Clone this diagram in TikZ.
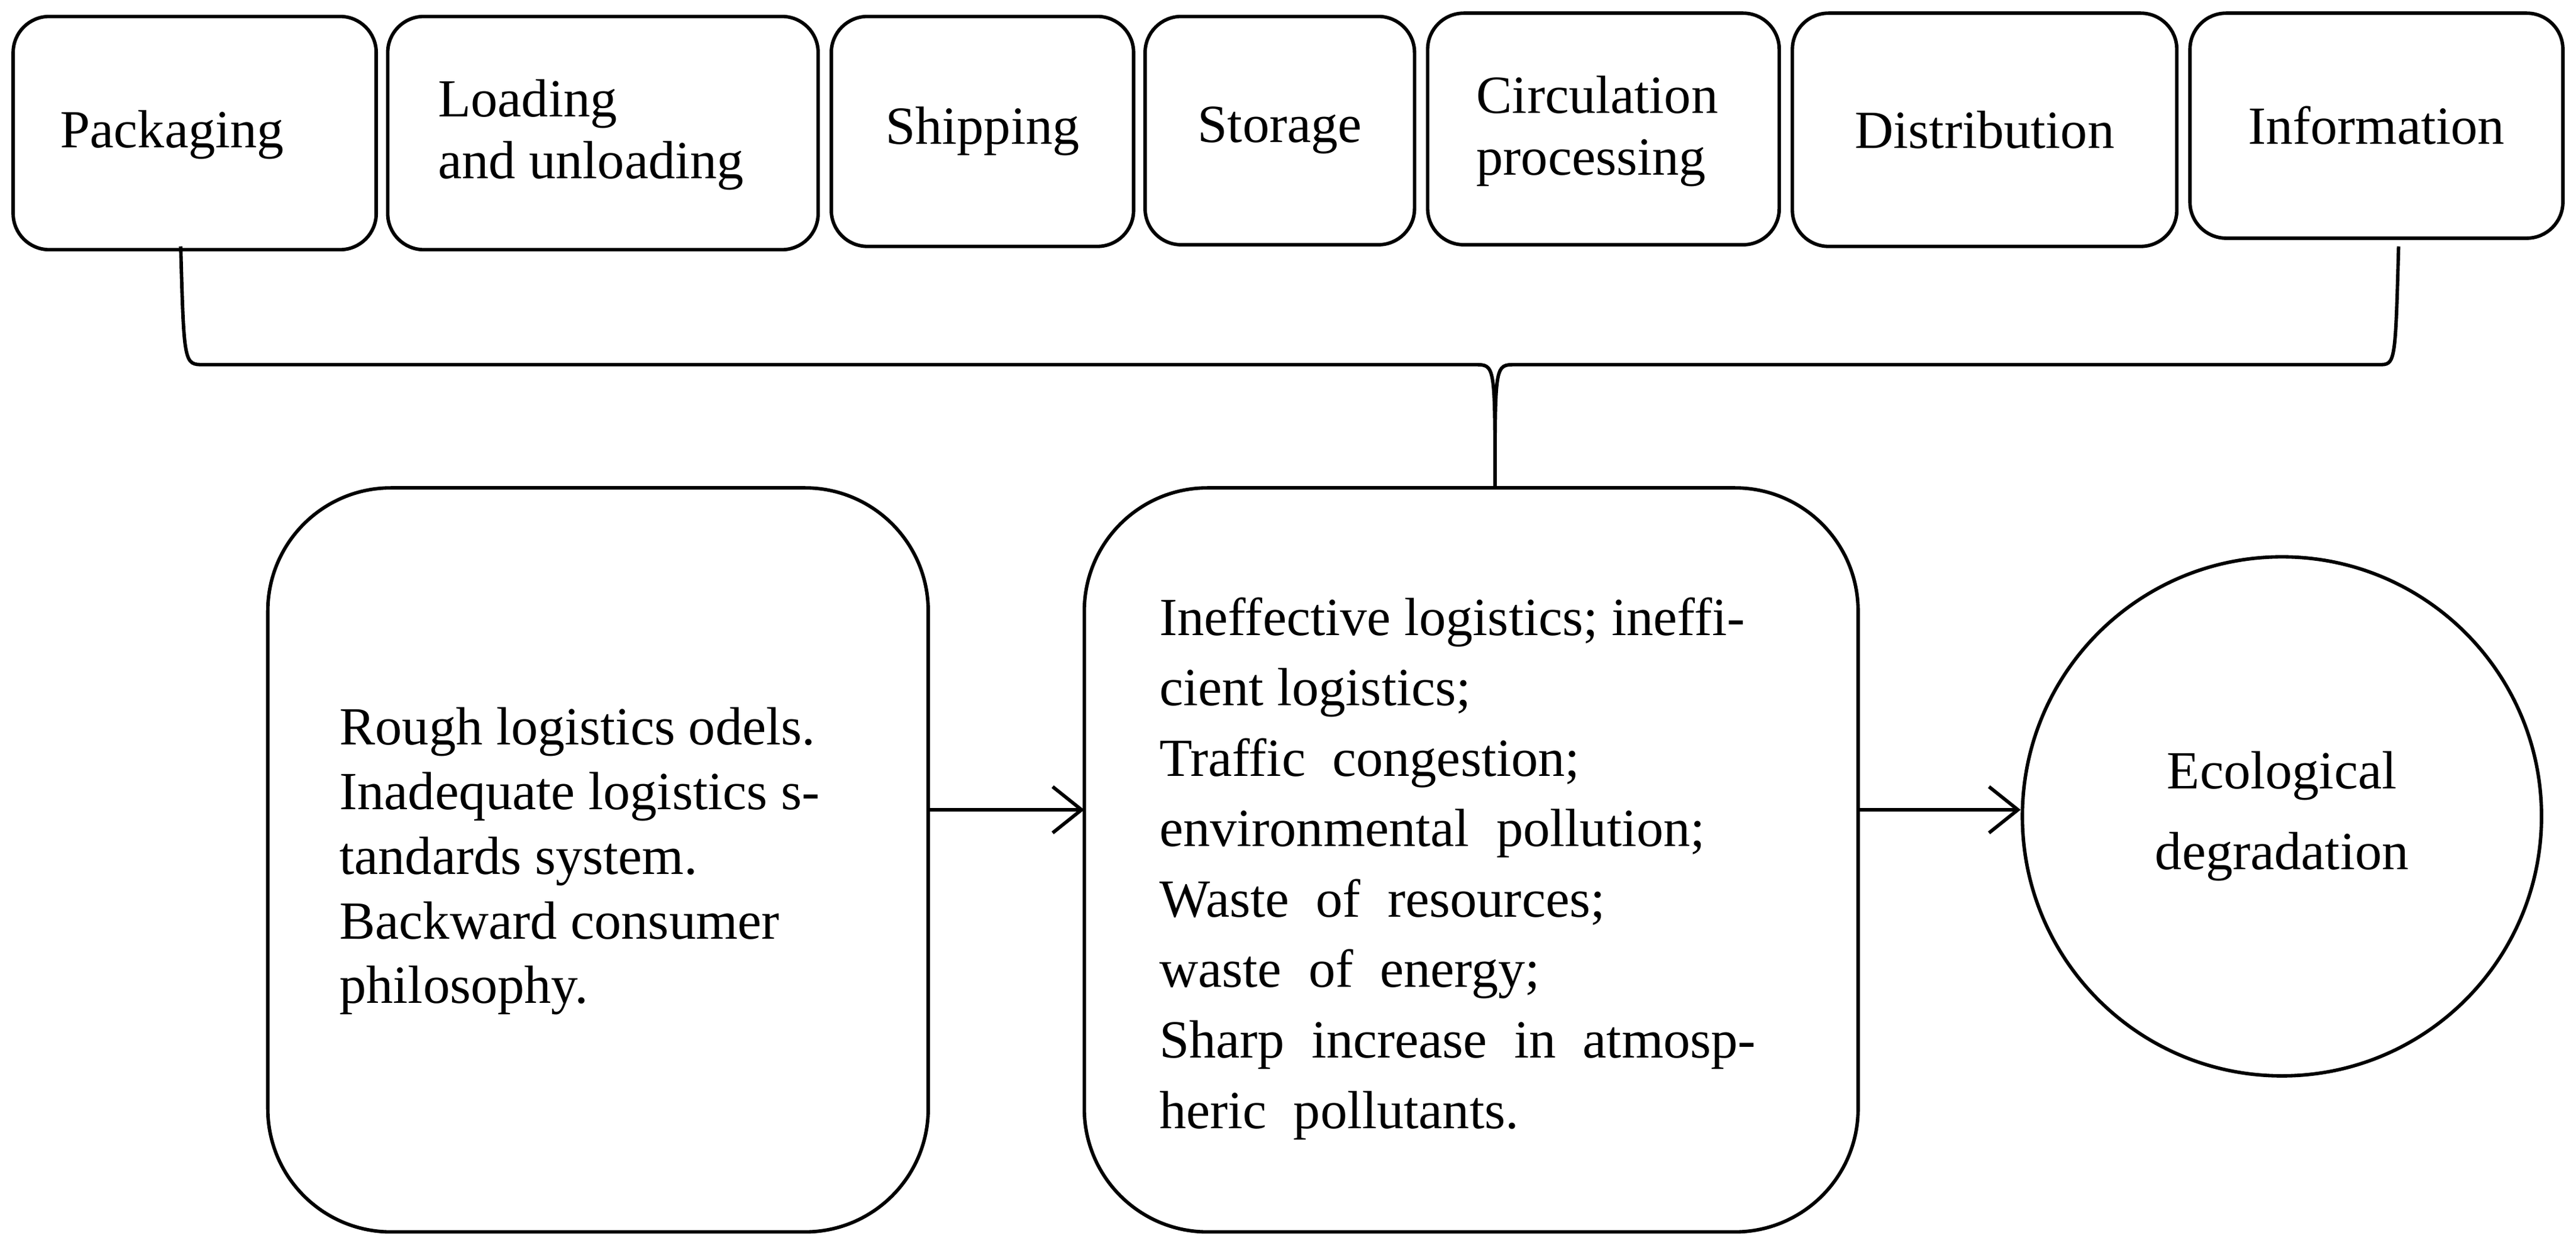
\documentclass[tikz,border=0pt]{standalone}
\usepackage{fontspec}
\setmainfont{Liberation Serif}
\usetikzlibrary{arrows.meta}
\begin{document}
\begin{tikzpicture}[x=1cm,y=-1cm,
  box/.style={draw,line width=0.6pt,rounded corners=0.22cm},
  big/.style={draw,line width=0.6pt,rounded corners=0.75cm},
  txt/.style={font=\fontsize{9.3}{10.7}\selectfont,align=left,inner sep=0},
  arr/.style={-{Straight Barb[length=5pt,width=8pt]},line width=0.6pt}]
\useasboundingbox (0,0) rectangle (15.68,7.61);
\draw[box] (0.08,0.10) rectangle (2.29,1.52);
\node[txt,anchor=west] (p) at (0.36,0.82) {Packaging};
\draw[box] (2.36,0.10) rectangle (4.98,1.52);
\node[txt,anchor=west] (l) at (2.66,0.82) {Loading\\and unloading};
\draw[box] (5.06,0.10) rectangle (6.90,1.50) node[midway,txt] (s) {Shipping};
\draw[box] (6.97,0.10) rectangle (8.61,1.49) node[midway,txt] (st) {Storage};
\draw[box] (8.69,0.08) rectangle (10.83,1.49);
\node[txt,anchor=west] (c) at (8.98,0.80) {Circulation\\processing};
\draw[box] (10.91,0.08) rectangle (13.25,1.50) node[midway,txt] (d) {Distribution};
\draw[box] (13.33,0.08) rectangle (15.60,1.45) node[midway,txt] (i) {Information};
\coordinate (bl) at (1.10,1.50);
\coordinate (br) at (14.60,1.50);
\coordinate (tip) at (9.10,2.97);
\draw[line width=0.6pt] (bl) .. controls (1.12,2.22) .. (1.24,2.22) -- (8.98,2.22)
  .. controls (9.10,2.22) .. (tip) .. controls (9.10,2.22) .. (9.22,2.22) -- (14.48,2.22)
  .. controls (14.58,2.22) .. (br);
\draw[big] (1.63,2.97) rectangle (5.65,7.50);
\node[txt,anchor=north west,font=\fontsize{9.3}{11.2}\selectfont] (lt) at (2.06,4.30) {Rough logistics odels.\\Inadequate logistics s-\\tandards system.\\Backward consumer\\philosophy.};
\draw[big] (6.60,2.97) rectangle (11.31,7.50);
\node[txt,anchor=north west,font=\fontsize{9.3}{12.2}\selectfont] (mt) at (7.05,3.63) {Ineffective logistics; ineffi-\\cient logistics;\\Traffic \ congestion;\\environmental \ pollution;\\Waste \ of \ resources;\\waste \ of \ energy;\\Sharp \ increase \ in \ atmosp-\\heric \ pollutants.};
\node[draw,line width=0.6pt,circle,minimum size=3.16cm,txt,align=center,font=\fontsize{9.3}{14}\selectfont] (e) at (13.89,4.97) {Ecological\\degradation};
\coordinate (a1) at (5.65,4.93);
\coordinate (a2) at (6.60,4.93);
\coordinate (a3) at (11.31,4.93);
\draw[arr] (a1) -- (a2);
\draw[arr] (a3) -- (a3 -| e.west);
\end{tikzpicture}
\end{document}
